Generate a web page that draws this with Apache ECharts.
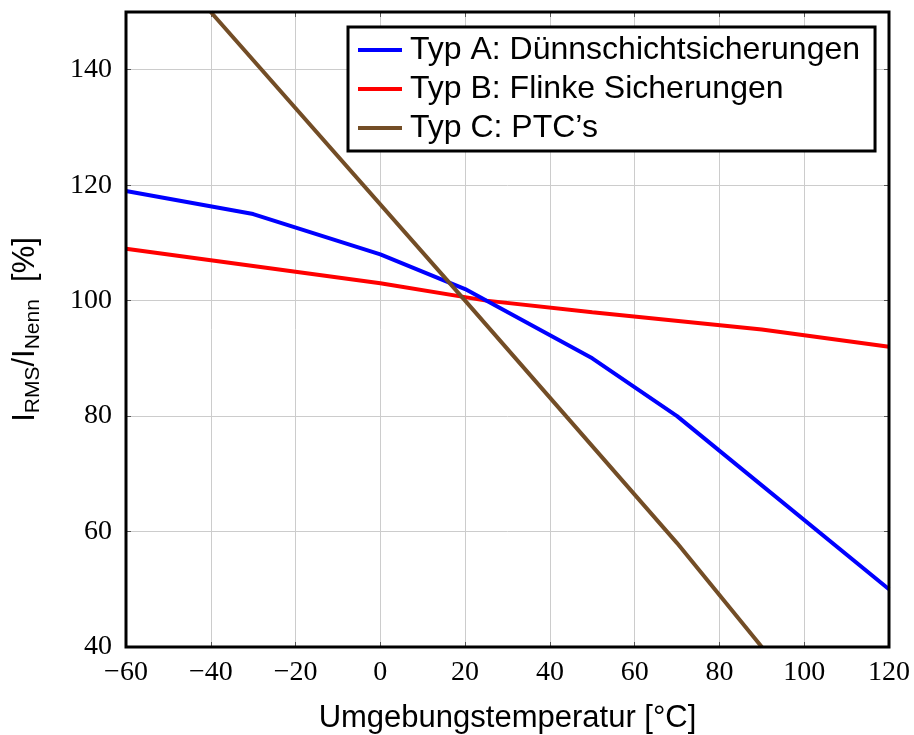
<!DOCTYPE html>
<html><head><meta charset="utf-8">
<script src="https://cdn.jsdelivr.net/npm/echarts@6/dist/echarts.min.js"></script>
<style>html,body{margin:0;padding:0;background:#fff}#c{width:914px;height:735px}</style>
</head><body><div id="c"></div>
<script>
var xTicks = [-60,-40,-20,0,20,40,60,80,100,120];
var yTicks = [40,60,80,100,120,140];
var seriesNames = ['Typ A: Dünnschichtsicherungen','Typ B: Flinke Sicherungen','Typ C: PTC\u2019s'];
var typA = [[-60,119],[-30,115],[0,108],[20,102],[50,90],[70,80],[120,50]];
var typB = [[-60,109],[0,103],[25,100],[50,98],[90,95],[120,92]];
var typC = [[-40,150],[20,100],[70,58],[90,40]];
var colors = ['#0000ff','#ff0000','#734d26'];

var fmt = function(v){ return v < 0 ? '\u2212' + Math.abs(v) : String(v); };
var serif = 'Liberation Serif';
var sans = 'Liberation Sans';
var chart = echarts.init(document.getElementById('c'), null, {renderer:'canvas'});
var tickStyle = {show:true, inside:true, length:5, lineStyle:{color:'#555', width:1}};
var opt = {
  animation:false,
  backgroundColor:'#fff',
  grid:{left:126, top:12, right:25, bottom:88, outerBoundsMode:'none', containLabel:false, show:true, borderColor:'#000', borderWidth:3, backgroundColor:'transparent', z:10},
  legend:{
    orient:'vertical', left:348, top:27, data:seriesNames,
    backgroundColor:'#fff', borderColor:'#000', borderWidth:3, borderRadius:0,
    padding:[7,15,7,10], itemGap:7, itemWidth:44, itemHeight:4, icon:'rect',
    textStyle:{fontFamily:sans, fontSize:32, color:'#000', lineHeight:32, padding:[0,0,0,3]}
  },
  xAxis:[{
    type:'value', min:-60, max:120, interval:20,
    name:'Umgebungstemperatur [°C]', nameLocation:'middle', nameGap:56,
    nameTextStyle:{fontFamily:sans, fontSize:31, color:'#000'},
    axisLine:{show:false, onZero:false}, axisTick:tickStyle,
    axisLabel:{fontFamily:serif, fontSize:28, color:'#000', margin:12, formatter:fmt},
    splitLine:{show:true, lineStyle:{color:'#cccccc', width:1}}
  },{
    type:'value', position:'top', min:-60, max:120, interval:20,
    axisLine:{show:false, onZero:false}, axisTick:tickStyle, axisLabel:{show:false}, splitLine:{show:false}
  }],
  yAxis:[{
    type:'value', min:40, max:150, interval:20,
    name:'{n|I}{s|RMS}{n|/I}{s|Nenn}{n|  [%]}', nameLocation:'middle', nameGap:82, nameRotate:90,
    nameTextStyle:{rich:{
      n:{fontFamily:sans, fontSize:31, color:'#000', lineHeight:38, verticalAlign:'middle'},
      s:{fontFamily:sans, fontSize:21, color:'#000', lineHeight:38, verticalAlign:'bottom', padding:[16,0,0,0]}
    }},
    axisLine:{show:false, onZero:false}, axisTick:tickStyle,
    axisLabel:{fontFamily:serif, fontSize:28, color:'#000', margin:14, formatter:function(v){ return v > 140 ? '' : fmt(v); }},
    splitLine:{show:true, lineStyle:{color:'#cccccc', width:1}}
  },{
    type:'value', position:'right', min:40, max:150, interval:20,
    axisLine:{show:false, onZero:false}, axisTick:tickStyle, axisLabel:{show:false}, splitLine:{show:false}
  }],
  series:[
    {name:seriesNames[0], type:'line', data:typA, showSymbol:false, lineStyle:{color:colors[0], width:4}, itemStyle:{color:colors[0]}, z:3},
    {name:seriesNames[1], type:'line', data:typB, showSymbol:false, lineStyle:{color:colors[1], width:4}, itemStyle:{color:colors[1]}, z:2},
    {name:seriesNames[2], type:'line', data:typC, showSymbol:false, lineStyle:{color:colors[2], width:4}, itemStyle:{color:colors[2]}, z:4}
  ]
};
chart.setOption(opt);
</script></body></html>
